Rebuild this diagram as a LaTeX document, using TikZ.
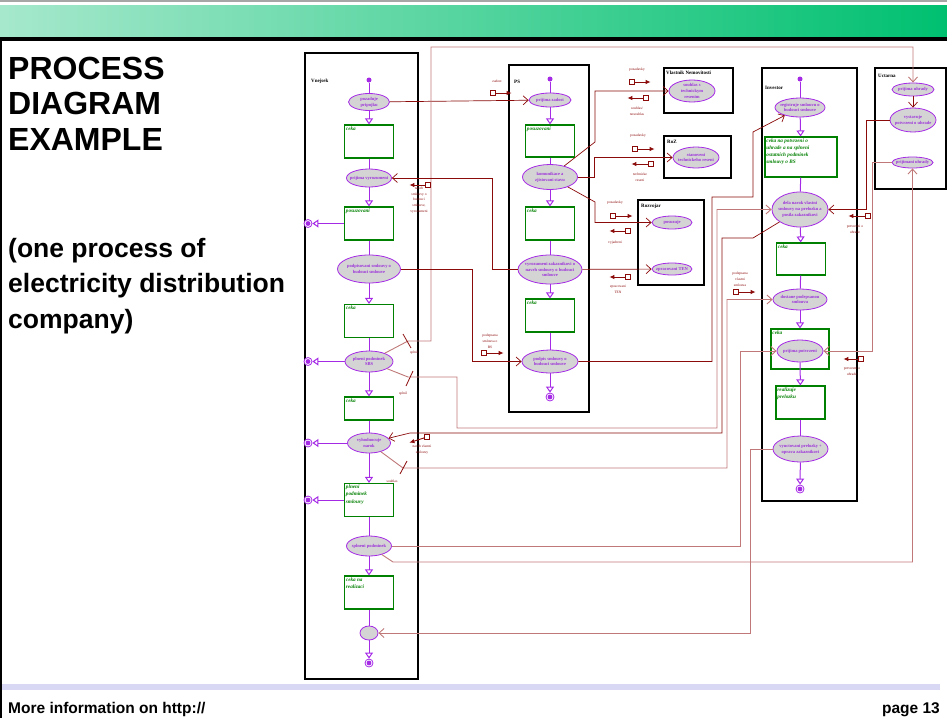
\documentclass[tikz,border=0pt]{standalone}
\usepackage{fontspec}
\setmainfont{Liberation Serif}
\newfontfamily\arialfont{Liberation Sans}
\usetikzlibrary{arrows.meta, positioning, shapes.geometric}
\definecolor{flowc}{HTML}{A52AE6}
\definecolor{acttext}{HTML}{9B30D9}
\definecolor{actfill}{HTML}{D4D4D4}
\definecolor{waitc}{HTML}{008000}
\definecolor{msgc}{HTML}{8B0A0A}
\definecolor{msgl}{HTML}{C07878}
\definecolor{hdrL}{HTML}{A6E8CC}
\definecolor{hdrR}{HTML}{00C070}
\definecolor{ftrc}{HTML}{D8D8F4}
\tikzset{
    lane/.style={draw=black, line width=1.2pt},
    lanetxt/.style={font=\fontsize{5}{6}\selectfont\bfseries, anchor=west, inner sep=0pt},
    act/.style 2 args={ellipse, draw=flowc, fill=actfill, line width=0.8pt, inner sep=0pt, minimum width=#1pt, minimum height=#2pt},
    acttxt/.style={text=acttext, font=\fontsize{4.5}{5.9}\selectfont\bfseries, align=center, inner sep=0pt},
    wait/.style 2 args={rectangle, draw=waitc, fill=white, line width=1.1pt, inner sep=0pt, minimum width=#1pt, minimum height=#2pt},
    waittxt/.style={text=waitc, font=\fontsize{5.2}{7.3}\selectfont\bfseries\itshape, align=left, anchor=north west, inner sep=1.8pt},
    startnd/.style={circle, fill=flowc, minimum size=5pt, inner sep=0pt},
    endnd/.style={circle, draw=flowc, fill=white, line width=0.8pt, minimum size=8pt, inner sep=0pt,
        path picture={\fill[flowc] (path picture bounding box.center) circle (2.4pt);}},
    flow/.style={draw=flowc, line width=1pt},
    flowto/.style={flow, -{Triangle[open, length=6pt, width=8pt]}},
    msg/.style={draw=msgc, line width=0.7pt, -{Straight Barb[length=5pt, width=9pt]}},
    msgp/.style={msg, draw=msgl, line width=0.9pt},
    tick/.style={draw=msgc, line width=0.8pt},
    flagsq/.style={rectangle, draw=msgc, fill=white, line width=0.7pt, minimum size=4.5pt, inner sep=0pt},
    flagline/.style={draw=msgc, line width=0.9pt, -{Latex[length=5pt, width=4.5pt]}},
    flagtxt/.style={text=msgc, font=\fontsize{3.6}{5.8}\selectfont, align=center, inner sep=0pt},
    ttl/.style={font=\arialfont\bfseries\fontsize{32}{36}\selectfont, inner sep=0pt, anchor=base west},
    subttl/.style={font=\arialfont\bfseries\fontsize{26.5}{30}\selectfont, inner sep=0pt, anchor=base west},
    foot/.style={font=\arialfont\bfseries\fontsize{15.5}{18}\selectfont, inner sep=0pt}
}
% square with a short arrow: name, position, side of the tip, distance
\newcommand{\dataflag}[4]{%
    \node[flagsq] (#1) at (#2) {};
    \node[coordinate, #3=#4 of #1] (#1tip) {};
    \draw[flagline] (#1) -- (#1tip);}

\begin{document}
\begin{tikzpicture}[x=1pt, y=-1pt]
    \useasboundingbox (0,0) rectangle (947,718);
    % slide frame
    \draw[gray!70, line width=1.5pt] (0,1) -- (947,1);
    \shade[left color=hdrL, right color=hdrR] (0,5) rectangle (947,37);
    \fill[black] (0,37) rectangle (947,41);
    \fill[black] (0,37) rectangle (2,718);
    \fill[ftrc] (2,684) rectangle (940,690);
    \node[foot, anchor=base west] (more) at (8,713) {More information on http://};
    \node[foot, anchor=base east] (page) at (940,713) {page 13};
    \node[ttl] (ttl1) at (8,79) {PROCESS};
    \node[ttl] (ttl2) at (8,114.5) {DIAGRAM};
    \node[ttl] (ttl3) at (8,150) {EXAMPLE};
    \node[subttl] (sub1) at (8,257) {(one process of};
    \node[subttl] (sub2) at (8,292.5) {electricity distribution};
    \node[subttl] (sub3) at (8,328) {company)};

    % lanes
    \draw[lane] (305,53) rectangle (418,679);
    \draw[lane] (509,65) rectangle (589,412);
    \draw[lane] (664,68) rectangle (733,113);
    \draw[lane] (664,136) rectangle (731,178);
    \draw[lane] (638,200) rectangle (704,285);
    \draw[lane] (762,68) rectangle (857,501);
    \draw[lane] (875,68) rectangle (946,189);
    \node[lanetxt] (vnejsek) at (311,81) {Vnejsek};
    \node[lanetxt] (ps) at (514,82) {PS};
    \node[lanetxt] (vlastnik) at (666,73) {Vlastnik Nemovitosti};
    \node[lanetxt] (roz) at (667,142) {RoZ};
    \node[lanetxt] (rozvojar) at (641,206) {Rozvojar};
    \node[lanetxt] (investor) at (765,88) {Investor};
    \node[lanetxt] (uctarna) at (878,76) {Uctarna};

    % Vnejsek
    \node[startnd] (s1) at (369,80) {};
    \node[act={41}{17}, label={[acttxt]center:pozaduje\\pripojku}] (e11) at (369,102) {};
    \node[wait={49}{33}, label={[waittxt]north west:ceka}] (b11) at (369,141.5) {};
    \node[act={45}{18}, label={[acttxt]center:prijima vyrozumeni}] (e12) at (369,178) {};
    \node[wait={49}{33}, label={[waittxt]north west:posuzovani}] (b12) at (369,223.5) {};
    \node[endnd] (f12) at (308,223.5) {};
    \node[act={63}{28}, label={[acttxt]center:podpisovani smlouvy o\\budouci smlouve}] (e13) at (369,269) {};
    \node[wait={49}{33}, label={[waittxt]north west:ceka}] (b13) at (369,321) {};
    \node[act={48}{21}, label={[acttxt]center:plneni podminek\\SBS}] (e14) at (369,361.5) {};
    \node[endnd] (f14) at (308,361.5) {};
    \node[wait={49}{23}, label={[waittxt]north west:ceka}] (b14) at (369,408.5) {};
    \node[act={43}{20}, label={[acttxt]center:vyhodnocuje\\narok}] (e15) at (369,443) {};
    \node[endnd] (f15) at (308,443) {};
    \node[wait={49}{33}, label={[waittxt]north west:plneni\\podminek\\smlouvy}] (b15) at (369,500) {};
    \node[endnd] (f16) at (308,500) {};
    \node[act={45}{20}, label={[acttxt]center:splneni podminek}] (e16) at (369,546) {};
    \node[wait={49}{33}, label={[waittxt]north west:ceka na\\realizaci}] (b16) at (369,592.5) {};
    \node[act={18}{14}] (e17) at (369,633) {};
    \node[endnd] (f17) at (369,663) {};

    % PS
    \node[startnd] (s2) at (550,79) {};
    \node[act={42}{14}, label={[acttxt]center:prijima zadost}] (e21) at (550,100) {};
    \node[wait={49}{32}, label={[waittxt]north west:posuzovani}] (b21) at (550,141) {};
    \node[act={55}{25}, label={[acttxt]center:komunikace a\\zjistovani stavu}] (e22) at (550,177) {};
    \node[wait={49}{33}, label={[waittxt]north west:ceka}] (b22) at (550,223.5) {};
    \node[act={64}{29}, label={[acttxt]center:vyrozumeni zakaznikovi o\\navrh smlouvy o budouci\\smlouve}] (e23) at (550,269.5) {};
    \node[wait={49}{33}, label={[waittxt]north west:ceka}] (b23) at (550,315.5) {};
    \node[act={56}{23}, label={[acttxt]center:podpis smlouvy o\\budouci smlouve}] (e24) at (550,361.5) {};
    \node[endnd] (f24) at (550,397) {};

    % Vlastnik Nemovitosti, RoZ, Rozvojar
    \node[act={46}{22}, label={[acttxt]center:souhlas s\\technickym\\resenim}] (e31) at (692,91) {};
    \node[act={46}{21}, label={[acttxt]center:stanoveni\\technickeho reseni}] (e41) at (696,157.5) {};
    \node[act={40}{13}, label={[acttxt]center:posuzuje}] (e51) at (672,222.5) {};
    \node[act={40}{12}, label={[acttxt]center:zpracovani TEN}] (e52) at (672,269) {};

    % Investor
    \node[startnd] (s6) at (800,79) {};
    \node[act={50}{19}, label={[acttxt]center:registruje smlouvu o\\budouci smlouve}] (e61) at (800,107.5) {};
    \node[wait={72}{40}, label={[waittxt]north west:ceka na potvrzeni o\\uhrade a na splneni\\ostatnich podminek\\smlouvy o BS}] (b61) at (801,157) {};
    \node[act={56}{35}, label={[acttxt]center:dela narok vlastni\\smlouvy na prelozku a\\posila zakaznikovi}] (e62) at (800,209.5) {};
    \node[wait={49}{32}, label={[waittxt]north west:ceka}] (b62) at (801,259) {};
    \node[act={54}{21}, label={[acttxt]center:dostane podepsanou\\smlouvu}] (e63) at (800,299.5) {};
    \node[wait={58}{40}, label={[waittxt]north west:ceka}] (b63) at (800,349) {};
    \node[act={46}{22}, label={[acttxt]center:prijima potvrzeni}] (e64) at (800,351) {};
    \node[wait={49}{33}, label={[waittxt]north west:realizuje\\prelozku}] (b64) at (800.5,402.5) {};
    \node[act={55}{26}, label={[acttxt]center:vyuctovani prelozky +\\oprava zakaznikovi}] (e65) at (800.5,449) {};
    \node[endnd] (f65) at (800,489) {};

    % Uctarna
    \node[act={42}{13}, label={[acttxt]center:prijima uhrady}] (e71) at (913,89.5) {};
    \node[act={46}{24}, label={[acttxt]center:vystavuje\\potvrzeni o uhrade}] (e72) at (913,120) {};
    \node[act={41}{11}, label={[acttxt]center:prijimani uhrady}] (e73) at (912.5,162.5) {};

    % control flow
    \draw[flow] (s1) -- (e11);
    \draw[flowto] (e11) -- (b11);
    \draw[flow] (b11) -- (e12);
    \draw[flowto] (e12) -- (b12);
    \draw[flowto] (b12) -- (f12);
    \draw[flow] (b12) -- (e13);
    \draw[flowto] (e13) -- (b13);
    \draw[flow] (b13) -- (e14);
    \draw[flowto] (e14) -- (f14);
    \draw[flowto] (e14) -- (b14);
    \draw[flow] (b14) -- (e15);
    \draw[flowto] (e15) -- (f15);
    \draw[flowto] (e15) -- (b15);
    \draw[flowto] (b15) -- (f16);
    \draw[flow] (b15) -- (e16);
    \draw[flowto] (e16) -- (b16);
    \draw[flow] (b16) -- (e17);
    \draw[flowto] (e17) -- (f17);

    \draw[flow] (s2) -- (e21);
    \draw[flowto] (e21) -- (b21);
    \draw[flow] (b21) -- (e22);
    \draw[flowto] (e22) -- (b22);
    \draw[flow] (b22) -- (e23);
    \draw[flowto] (e23) -- (b23);
    \draw[flow] (b23) -- (e24);
    \draw[flowto] (e24) -- (f24);

    \draw[flow] (s6) -- (e61);
    \draw[flowto] (e61) -- (b61);
    \draw[flow] (b61) -- (e62);
    \draw[flowto] (e62) -- (b62);
    \draw[flow] (b62) -- (e63);
    \draw[flowto] (e63) -- (b63);
    \draw[flowto] (e64) -- (b64);
    \draw[flow] (b64) -- (e65);
    \draw[flowto] (e65) -- (f65);

    % messages between lanes
    \draw[msg] (e11) -- (e21);
    \draw[msgp] (e14) -- (408,341) -- (431,341) -- (431,47) -| (e71);
    \draw[msgp] (e14) -- (408,377) -- (457,377) -- (457,428) -- (717,428) -- (717,209.5) -- (e62);
    \draw[msg] (e22) -- (595,142) -- (595,91) -- (e31);
    \draw[msg] (e22) -- (594,177) -- (594,157.5) -- (e41);
    \draw[msg] (e22) -- (595,202) -- (595,222.5) -- (e51);
    \draw[msg] (e23) -- (492,269.5) -- (492,178) -- (e12);
    \draw[msg] (e23) -- (e52);
    \draw[msg] (e13) -- (472,269) -- (472,361.5) -- (e24);
    \draw[msg] (e24) -- (712,361.5) -- (712,197) -- (753,197) -- (753,132) -- (e61);
    \draw[msg] (e62) -- (753,238) -- (722,238) -- (722,433) -- (410,433) -- (e15);
    \draw[msgp] (e15) -- (403,468) -- (727,468) -- (727,299.5) -- (e63);
    \draw[msg] (e72) -- (866,120) -- (866,209.5) -- (e62);
    \draw[msgp] (e73) -- (872,162.5) -- (872,351) -- (e64);
    \draw[msgp] (e16) -- (740,546) -- (740,351) -- (e64);
    \draw[msgp] (e16) -- (393,562) -- (912.5,562) -- (e73);
    \draw[msgp] (e65) -- (750,449) -- (750,633) -- (e17);
    \draw[msg] (e71) -- (e72);

    % conditions on the messages
    \draw[tick] (403,334) -- (411,348);
    \draw[tick] (406,386) -- (413,371);
    \draw[tick] (400,474) -- (407,461);
    \node[flagtxt] (splnil1) at (414,353) {splnil};
    \node[flagtxt] (splnil2) at (403,394) {splnil};
    \node[flagtxt] (souhlas) at (392,481) {souhlas};

    % data objects
    \dataflag{fzadost}{493,93}{right}{16pt}
    \node[flagtxt] at (497,81) {zadost};
    \dataflag{fpoz1}{632,82}{right}{16pt}
    \node[flagtxt] at (637,70) {pozadavky};
    \dataflag{fsouhl}{646,98}{left}{16pt}
    \node[flagtxt] at (637,111) {souhlas/\\nesouhlas};
    \dataflag{fpoz2}{635,149}{right}{17pt}
    \node[flagtxt] at (638,136) {pozadavky};
    \dataflag{ftech}{651,164}{left}{17pt}
    \node[flagtxt] at (640,177) {technicke\\reseni};
    \dataflag{fpoz3}{613,216}{right}{17pt}
    \node[flagtxt] at (615,203) {pozadavky};
    \dataflag{fvyj}{628,231}{left}{16pt}
    \node[flagtxt] at (615,243) {vyjadreni};
    \dataflag{ften}{628,277}{left}{16pt}
    \node[flagtxt] at (618,289) {zpracovani\\TEN};
    \dataflag{fnavrh}{428,185}{left}{16pt}
    \node[flagtxt, anchor=north] at (419,186.5) {navrh\\smlouvy o\\budouci\\smlouve,\\vyrozumeni};
    \dataflag{fpodbs}{484,353}{right}{17pt}
    \node[flagtxt] at (490,341) {podepsana\\smlouva o\\BS};
    \dataflag{fnavvl}{427,437}{below left}{3pt and 15pt}
    \node[flagtxt] at (422,450) {navrh vlastni\\smlouvy};
    \dataflag{fpodvl}{736,292}{right}{17pt}
    \node[flagtxt] at (740,279) {podepsana\\vlastni\\smlouva};
    \dataflag{fuhr1}{868,216}{left}{17pt}
    \node[flagtxt] at (855,229) {potvrzeni o\\uhrade};
    \dataflag{fuhr2}{861,359}{left}{15pt}
    \node[flagtxt] at (852,371) {potvrzeni o\\uhrade};
\end{tikzpicture}
\end{document}
